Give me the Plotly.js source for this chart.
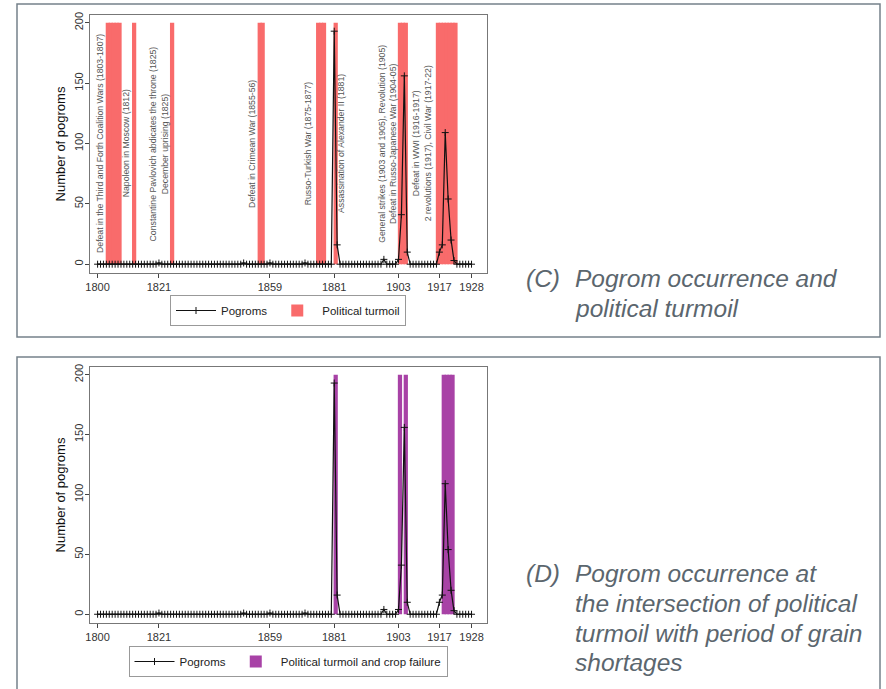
<!DOCTYPE html>
<html>
<head>
<meta charset="utf-8">
<script src="https://cdn.plot.ly/plotly-3.0.1.min.js"></script>
<style>
  html, body { margin: 0; padding: 0; background: #fff; }
  #chart { width: 886px; height: 689px; }
</style>
</head>
<body>
<div id="chart"></div>
<script>
// ---------------- DATA ----------------
const firstYear = 1800;
const lastYear = 1928;
const years = [];
for (let y = firstYear; y <= lastYear; y++) years.push(y);

// number of pogroms per year (non-zero years only)
const pogromYears  = [1821, 1850, 1859, 1871, 1881, 1882, 1898, 1903, 1904, 1905, 1906, 1917, 1918, 1919, 1920, 1921, 1922];
const pogromCounts = [1,    1,    1,    1,    193,  16,   4,    4,    41,   156,  10,   10,   16,   109,  54,   20,   3];

// years of political turmoil (panel C)
const turmoilYears = [1803, 1804, 1805, 1806, 1807, 1812, 1825, 1855, 1856, 1875, 1876, 1877, 1881,
                      1903, 1904, 1905, 1916, 1917, 1918, 1919, 1920, 1921, 1922];
// years of political turmoil together with crop failure (panel D)
const turmoilCropYears = [1881, 1903, 1905, 1918, 1919, 1920, 1921];
const shadeTop = 200;

// event labels in panel C
const eventLabels = [
  "Defeat in the Third and Forth Coalition Wars (1803-1807)",
  "Napoleon in Moscow (1812)",
  "Constantine Pavlovich abdicates the throne (1825)<br>December uprising (1825)",
  "Defeat in Crimean War (1855-56)",
  "Russo-Turkish War (1875-1877)",
  "Assassination of Alexander II (1881)",
  "General strikes (1903 and 1905), Revolution (1905)<br>Defeat in Russo-Japanese War (1904-05)",
  "Defeat in WWI (1916-1917)<br>2 revolutions (1917), Civil War (1917-22)"
];
const eventLabelX = [1801, 1810, 1821, 1853, 1872.3, 1883.5, 1899.2, 1911];
const eventLabelY = 100;

const xTicks = [1800, 1821, 1859, 1881, 1903, 1917, 1928];
const yTicks = [0, 50, 100, 150, 200];

// ---------------- BUILD ----------------
const pogroms = years.map(y => {
  const i = pogromYears.indexOf(y);
  return i >= 0 ? pogromCounts[i] : 0;
});

const FONT = "Liberation Sans, Arial, sans-serif";
const RED = "#f96b6b";
const PURPLE = "#a842a6";

function lineTrace(xa, ya, legend) {
  return {
    type: "scatter", mode: "lines+markers",
    x: years, y: pogroms, xaxis: xa, yaxis: ya,
    name: "Pogroms", legend: legend, legendrank: 1,
    line: { color: "#111", width: 1.2 },
    marker: { symbol: "cross-thin", size: 5, color: "#111", line: { width: 1, color: "#111" } },
    hoverinfo: "x+y"
  };
}
function barTrace(xs, xa, ya, name, color, legend) {
  return {
    type: "bar", x: xs, y: xs.map(() => shadeTop), base: 0,
    width: 1.45, offset: -0.22,
    xaxis: xa, yaxis: ya, name: name, legend: legend, legendrank: 2,
    marker: { color: color, line: { width: 0 } }
  };
}

const traces = [
  barTrace(turmoilYears, "x", "y", "Political turmoil", RED, "legend"),
  lineTrace("x", "y", "legend"),
  barTrace(turmoilCropYears, "x2", "y2", "Political turmoil and crop failure", PURPLE, "legend2"),
  lineTrace("x2", "y2", "legend2")
];

const W = 886, H = 689;
const px = v => v / W;
const py = v => 1 - v / H;

const xRange = [1797.4, 1933.3];
const yRange = [-7.3, 206.4];

function xaxisDef(anchor) {
  return {
    anchor: anchor, domain: [px(90), px(487)], range: xRange,
    tickvals: xTicks, ticks: "outside", ticklen: 4, tickwidth: 1, tickcolor: "#444",
    showline: true, mirror: true, linecolor: "#777", linewidth: 1,
    showgrid: false, zeroline: false,
    tickfont: { family: FONT, size: 11, color: "#333" }
  };
}
function yaxisDef(anchor, top, bottom) {
  return {
    anchor: anchor, domain: [py(bottom), py(top)], range: yRange,
    tickvals: yTicks, tickangle: -90, ticks: "outside", ticklen: 4, tickwidth: 1, tickcolor: "#444",
    ticklabelstandoff: -2,
    showline: true, mirror: true, linecolor: "#777", linewidth: 1,
    showgrid: false, zeroline: false,
    tickfont: { family: FONT, size: 11, color: "#333" },
    title: { text: "Number of pogroms", font: { family: FONT, size: 13, color: "#111" }, standoff: 4 }
  };
}

const annotations = eventLabels.map((t, i) => ({
  xref: "x", yref: "y", x: eventLabelX[i], y: eventLabelY,
  text: t, textangle: -90, showarrow: false,
  xanchor: "center", yanchor: "middle", align: "center",
  font: { family: FONT, size: 8.7, color: "#555" }
}));

const capFont = { family: FONT, size: 24.5, color: "#5b666e", style: "italic" };
function cap(x, y, text) {
  return { xref: "paper", yref: "paper", x: px(x), y: py(y), text: text,
           showarrow: false, xanchor: "left", yanchor: "middle", font: capFont };
}
annotations.push(
  cap(524, 278, "(C)"), cap(573, 278, "Pogrom occurrence and"), cap(573, 308, "political turmoil"),
  cap(524, 573, "(D)"), cap(573, 573, "Pogrom occurrence at"), cap(573, 603, "the intersection of political"),
  cap(573, 633, "turmoil with period of grain"), cap(573, 662, "shortages")
);

const borderColor = "#75818a";
const shapes = [
  { type: "rect", xref: "paper", yref: "paper", x0: px(17), x1: px(880), y0: py(337), y1: py(4),
    line: { color: borderColor, width: 1.5 }, fillcolor: "rgba(0,0,0,0)" },
  { type: "rect", xref: "paper", yref: "paper", x0: px(17), x1: px(880), y0: py(700), y1: py(357),
    line: { color: borderColor, width: 1.5 }, fillcolor: "rgba(0,0,0,0)" }
];

const legendCommon = {
  orientation: "h", xanchor: "center", yanchor: "top",
  bgcolor: "#fff", bordercolor: "#999", borderwidth: 1,
  font: { family: FONT, size: 11.5, color: "#222" },
  itemwidth: 40, traceorder: "normal"
};

const layout = {
  width: W, height: H,
  margin: { l: 0, r: 0, t: 0, b: 0 },
  paper_bgcolor: "#fff", plot_bgcolor: "#fff",
  showlegend: true,
  xaxis: xaxisDef("y"),
  yaxis: yaxisDef("x", 15, 273),
  xaxis2: xaxisDef("y2"),
  yaxis2: yaxisDef("x2", 367, 623),
  legend: Object.assign({}, legendCommon, { x: px(288), y: py(295) }),
  legend2: Object.assign({}, legendCommon, { x: px(288), y: py(646) }),
  annotations: annotations,
  shapes: shapes,
  barmode: "overlay"
};

Plotly.newPlot("chart", traces, layout, { staticPlot: true, displayModeBar: false });
</script>
</body>
</html>
